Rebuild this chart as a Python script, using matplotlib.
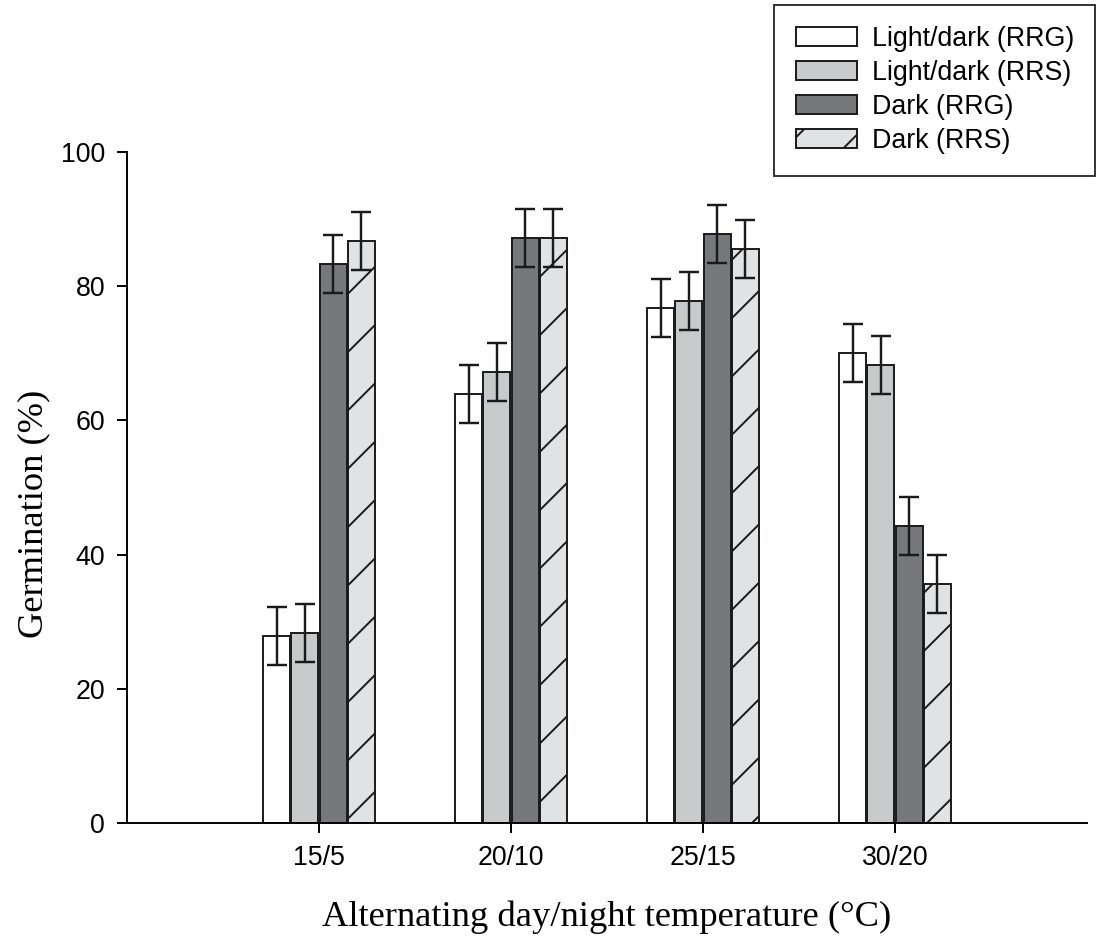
import numpy as np
import matplotlib.pyplot as plt

# germination (%) per temperature regime, mean and error
temps = ['15/5', '20/10', '25/15', '30/20']
light_rrg = [27.9, 63.9, 76.7, 70.0]
light_rrs = [28.3, 67.2, 77.8, 68.3]
dark_rrg = [83.3, 87.2, 87.8, 44.3]
dark_rrs = [86.7, 87.2, 85.5, 35.6]
err_light_rrg = [4.3, 4.3, 4.3, 4.3]
err_light_rrs = [4.3, 4.3, 4.3, 4.3]
err_dark_rrg = [4.3, 4.3, 4.3, 4.3]
err_dark_rrs = [4.3, 4.3, 4.3, 4.3]

labels = ['Light/dark (RRG)', 'Light/dark (RRS)', 'Dark (RRG)', 'Dark (RRS)']
series = [light_rrg, light_rrs, dark_rrg, dark_rrs]
errors = [err_light_rrg, err_light_rrs, err_dark_rrg, err_dark_rrs]
fills = ['white', '#c8c9cb', '#77787b', '#e1e2e3']
hatches = [None, None, None, '/']

DPI = 175
plt.rcParams['font.family'] = ['Liberation Sans', 'DejaVu Sans']
plt.rcParams['hatch.linewidth'] = 0.8
plt.rcParams['hatch.color'] = '#1a1a1a'

fig = plt.figure(figsize=(1097 / DPI, 941 / DPI), dpi=DPI)
ax = fig.add_axes([0.1158, 0.1254, 0.8751, 0.7131])

x = np.arange(len(temps))
width = 0.14
step = 0.147
for i in range(4):
    ax.bar(x + (i - 1.5) * step, series[i], width, color=fills[i],
           edgecolor='#1a1a1a', linewidth=0.8, hatch=hatches[i],
           label=labels[i], zorder=2)
    ax.errorbar(x + (i - 1.5) * step, series[i], yerr=errors[i], fmt='none',
                ecolor='#1a1a1a', elinewidth=1.0, capsize=4, capthick=1.0,
                zorder=3)

ax.set_xlim(-1, 4)
ax.set_ylim(0, 100)
ax.set_xticks(x)
ax.set_xticklabels(temps)
ax.set_yticks([0, 20, 40, 60, 80, 100])
ax.tick_params(axis='both', direction='out', length=4, width=0.8,
               labelsize=11, pad=5)
for s in ['top', 'right']:
    ax.spines[s].set_visible(False)
for s in ['left', 'bottom']:
    ax.spines[s].set_linewidth(0.8)

ax.set_ylabel('Germination (%)', family='Liberation Serif', fontsize=15)
ax.yaxis.set_label_coords(-0.08, 0.46)
ax.set_xlabel('Alternating day/night temperature (°C)',
              family='Liberation Serif', fontsize=15, labelpad=12)

leg = fig.legend(loc='upper right', bbox_to_anchor=(0.9985, 0.995),
                 borderaxespad=0, fontsize=11, frameon=True, fancybox=False,
                 edgecolor='black', handlelength=2.3, handleheight=0.7,
                 borderpad=0.8, labelspacing=0.3, handletextpad=0.55)
leg.get_frame().set_linewidth(0.8)

fig.savefig('out.png', dpi=DPI)
